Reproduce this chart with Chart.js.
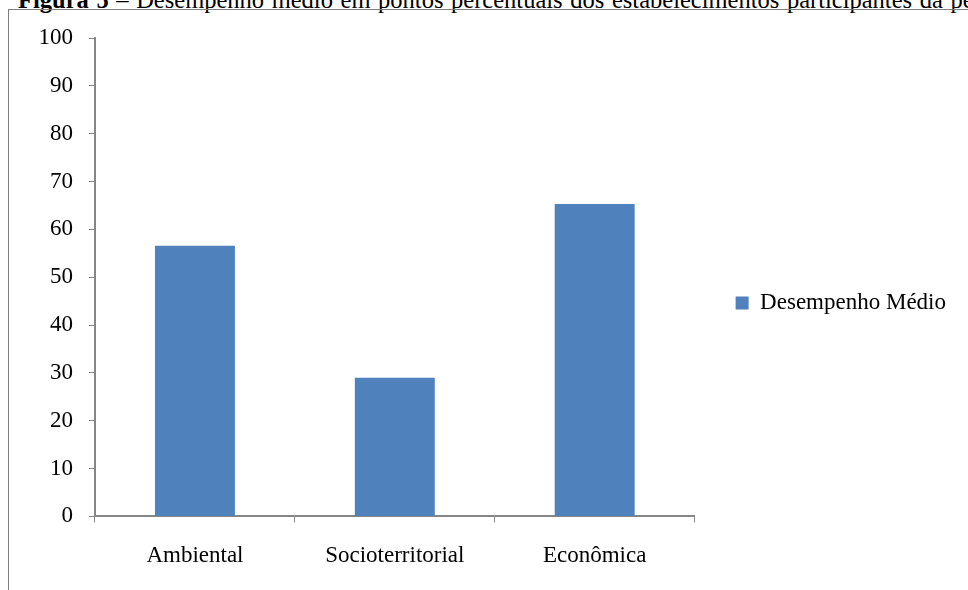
<!DOCTYPE html>
<html><head><meta charset="utf-8">
<script src="https://cdn.jsdelivr.net/npm/chart.js@4.4.0/dist/chart.umd.min.js"></script>
<style>
html,body{margin:0;padding:0;background:#fff;width:968px;height:590px;overflow:hidden;position:relative;font-family:"Liberation Serif",serif;}
#title{position:absolute;left:18px;top:-14px;font-size:24.5px;word-spacing:1.5px;white-space:nowrap;color:#000;}
#frame{position:absolute;left:8px;top:9px;width:1000px;height:700px;border:1px solid #7f7f7f;box-sizing:border-box;}
#wrap{position:absolute;left:-128px;top:0;width:1096px;height:590px;}
</style></head><body>
<div id="title"><b>Figura 5</b> – Desempenho médio em pontos percentuais dos estabelecimentos participantes da pesquisa</div>
<div id="frame"></div>
<div id="wrap"><canvas id="c" width="1096" height="590"></canvas></div>
<script>
const categories = ["Ambiental", "Socioterritorial", "Econômica"];
const seriesName = "Desempenho Médio";
const values = [56.6, 29, 65.3];
const yTicks = [0, 10, 20, 30, 40, 50, 60, 70, 80, 90, 100];

const font = {family: "Liberation Serif", size: 23};
const legendNudge = {
  id: 'legendNudge',
  afterLayout(chart) { const l = chart.legend; if (l) { l.top -= 11; l.bottom -= 11; } }
};
new Chart(document.getElementById('c'), {
  type: 'bar',
  data: {labels: categories, datasets: [{label: seriesName, data: values, backgroundColor: '#4F81BD', borderWidth: 0, categoryPercentage: 1, barPercentage: 0.4}]},
  plugins: [legendNudge],
  options: {
    responsive: false, animation: false,
    layout: {padding: {left: 0, top: 38, right: 12, bottom: 0}},
    plugins: {
      tooltip: {enabled: false},
      legend: {position: 'right', labels: {font: font, color: '#000', boxWidth: 13, boxHeight: 13, padding: 41}}
    },
    scales: {
      x: {
        grid: {offset: true, drawOnChartArea: false, drawTicks: true, tickLength: 6, color: '#868686'},
        border: {display: true, color: '#868686', width: 2},
        ticks: {font: font, color: '#000', padding: 20}
      },
      y: {
        min: 0, max: 100,
        afterBuildTicks: s => { s.ticks = yTicks.map(v => ({value: v})); },
        afterFit: s => { s.width = 223; },
        grid: {drawOnChartArea: false, drawTicks: true, tickLength: 6, color: '#868686'},
        border: {display: true, color: '#868686', width: 2},
        ticks: {font: font, color: '#000', padding: 16}
      }
    }
  }
});
</script>
</body></html>
